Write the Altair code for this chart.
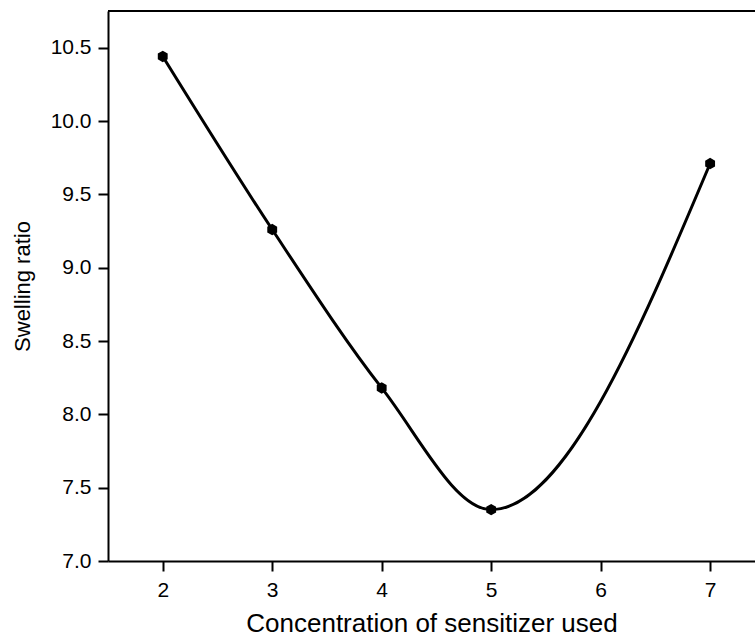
import altair as alt
import pandas as pd

conc = [2, 3, 4, 5, 7]
swelling = [10.44, 9.26, 8.18, 7.35, 9.71]
x_ticks = [2, 3, 4, 5, 6, 7]
y_ticks = [7.0, 7.5, 8.0, 8.5, 9.0, 9.5, 10.0, 10.5]

df = pd.DataFrame({"conc": conc, "swell": swelling})

hexagon = "M0,-1L0.866,-0.5L0.866,0.5L0,1L-0.866,0.5L-0.866,-0.5Z"
FONT = "Liberation Sans"

x = alt.X("conc:Q", scale=alt.Scale(domain=[1.5, 7.41], nice=False, zero=False),
          axis=alt.Axis(values=x_ticks, format="d", title="Concentration of sensitizer used",
                        grid=False, tickSize=10, tickWidth=2, tickColor="black",
                        domainColor="black", domainWidth=2, labelFontSize=21,
                        labelColor="black", labelPadding=8, titleFontSize=26,
                        titleFontWeight="normal", titleColor="black", titlePadding=10,
                        labelFont=FONT, titleFont=FONT))
y = alt.Y("swell:Q", scale=alt.Scale(domain=[7.0, 10.75], nice=False, zero=False),
          axis=alt.Axis(values=y_ticks, format=".1f", title="Swelling ratio",
                        grid=False, tickSize=10, tickWidth=2, tickColor="black",
                        domainColor="black", domainWidth=2, labelFontSize=21,
                        labelColor="black", labelPadding=7, titleFontSize=22,
                        titleFontWeight="normal", titleColor="black", titlePadding=16,
                        labelFont=FONT, titleFont=FONT))

top_border = alt.Chart(df).mark_rule(color="black", strokeWidth=2).encode(
    x=alt.value(0), x2=alt.value(647), y=alt.value(0))
line = alt.Chart(df).mark_line(interpolate="monotone", color="black", strokeWidth=3).encode(x=x, y=y)
pts = alt.Chart(df).mark_point(shape=hexagon, filled=True, color="black", opacity=1, size=130).encode(x=x, y=y)

chart = (top_border + line + pts).properties(
    width=647, height=550,
    autosize=alt.AutoSizeParams(type="none"),
    padding={"left": 108, "top": 11, "right": 0, "bottom": 78},
    background="white",
).configure_view(stroke=None)

chart.save("out.html", embed_options={"renderer": "svg", "actions": False})
